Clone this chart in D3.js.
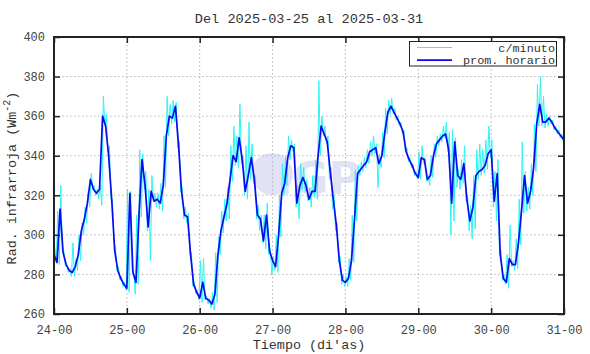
<!DOCTYPE html>
<html lang="es">
<meta charset="UTF-8">
<style>
    body{ margin:0; background:#fff; }
    text{
        font-family:"Liberation Mono","DejaVu Sans Mono",Courier,monospace;
        fill:#333;
    }
    .grid line{
        stroke:#b4b4b4;
        stroke-dasharray:1.5,2.5;
    }
</style>
<body>
<div id="chart"></div>
<script src="https://d3js.org/d3.v7.min.js"></script>
<script>
    // dimensiones
    var width = 590, height = 354;
    var margin = {top:37, right:26, bottom:40, left:54};
    var x0 = margin.left, x1 = width - margin.right;
    var y0 = margin.top, y1 = height - margin.bottom;

    var title = "Del 2025-03-25 al 2025-03-31";
    var dayTicks = [0, 24, 48, 72, 96, 120, 144, 168];
    var dayLabels = ["24-00","25-00","26-00","27-00","28-00","29-00","30-00","31-00"];
    var yTicks = [260, 280, 300, 320, 340, 360, 380, 400];

    // promedio horario (una hora por valor, 24-00 .. 31-00)
    var hourly = [
        290,286,313,291,285,282,281,284,290,302,308,316,328,323,321,323,360,355,340,318,292,282,278,275,
        273,321,281,276,310,338,325,304,322,317,318,316,325,350,360,359,365,346,322,310,309,290,275,271,
        268,276,268,267,265,270,290,302,309,316,328,340,337,349,338,322,330,339,328,310,308,297,310,292,
        287,284,300,321,326,339,345,344,316,325,329,325,318,322,322,340,355,351,347,332,318,305,287,277,
        276,278,287,308,331,333,335,337,342,343,344,336,340,352,362,365,362,359,356,352,342,338,335,331,
        329,339,338,328,330,340,346,348,350,351,343,316,347,330,328,336,318,307,314,330,332,333,335,341,
        343,317,331,290,278,276,288,285,285,296,312,330,316,322,334,356,366,357,357,359,357,354,352,350,348
    ];

    var minuteHi = [
        294,312,325,292,285,283,296,288,300,306,314,322,331,325,323,325,370,361,345,318,294,284,279,276,
        323,322,282,310,343,341,332,323,330,321,321,326,350,370,366,368,367,347,324,314,311,291,276,272,
        287,288,269,268,271,291,299,312,318,324,345,355,350,366,340,345,357,346,330,315,310,310,316,293,
        289,300,320,336,340,350,348,346,325,336,334,328,324,330,338,378,360,355,350,334,320,306,289,280,
        279,288,310,333,335,337,339,343,347,350,346,341,352,364,368,369,364,360,357,353,344,339,336,332,
        342,345,339,330,340,346,350,351,355,357,352,353,349,333,338,345,320,315,330,343,346,343,348,355,
        348,332,338,292,280,290,305,287,298,318,347,332,324,336,356,376,380,370,361,360,358,355,353,351
    ];
    var minuteLo = [
        286,285,292,284,281,279,279,282,287,300,306,314,324,320,318,315,356,342,318,296,282,277,274,272,
        271,282,270,275,309,323,302,287,317,314,313,312,324,350,356,357,344,322,308,306,290,274,270,267,
        266,267,265,263,262,266,290,301,307,308,327,335,334,336,320,318,328,326,308,302,296,293,290,280,
        282,281,299,320,325,338,342,314,308,323,322,317,314,319,318,340,350,346,328,313,302,286,275,274,
        274,277,286,307,330,332,334,336,340,341,324,334,339,351,361,361,358,355,351,342,337,334,330,328,
        328,336,327,325,329,339,345,347,349,342,300,307,324,323,326,317,302,298,303,328,330,331,333,339,
        314,307,290,277,275,273,284,282,283,295,311,312,313,320,332,355,355,354,355,356,353,351,349,347
    ];

    // cada hora: un pico y un valle del registro por minuto
    var minuteSeries = [];
    minuteHi.forEach(function(d, i){
        minuteSeries.push({t:i + 0.25, v:d});
        minuteSeries.push({t:i + 0.75, v:minuteLo[i]});
    });

    var svg = d3.select("#chart").append("svg")
        .attr("width", width)
        .attr("height", height);

    svg.append("rect")
        .attr("width", width)
        .attr("height", height)
        .attr("fill", "#fff");

    var x = d3.scaleLinear().domain([0, 168]).range([x0, x1]);
    var y = d3.scaleLinear().domain([260, 400]).range([y1, y0]);

    // marca de agua
    var wm = svg.append("g").attr("opacity", 0.8);
    wm.append("circle")
        .attr("cx", 272).attr("cy", 174).attr("r", 21)
        .attr("fill", "#dcdcf4");
    wm.append("text")
        .attr("x", 276).attr("y", 194)
        .style("font-family", "'DejaVu Sans',sans-serif")
        .style("font-weight", "bold")
        .style("font-size", "44px")
        .style("fill", "#dcdcf4")
        .text("IGP");

    // rejilla
    var grid = svg.append("g").attr("class", "grid");
    grid.selectAll("line.vx")
        .data(dayTicks.slice(1, -1))
        .enter().append("line")
        .attr("x1", d => x(d)).attr("x2", d => x(d))
        .attr("y1", y0).attr("y2", y1);
    grid.selectAll("line.hy")
        .data(yTicks.slice(1, -1))
        .enter().append("line")
        .attr("class", "hy")
        .attr("x1", x0).attr("x2", x1)
        .attr("y1", d => y(d)).attr("y2", d => y(d));

    // c/minuto
    var zig = d3.line()
        .x(d => x(d.t))
        .y(d => y(d.v));

    svg.append("path")
        .datum(minuteSeries)
        .attr("d", zig)
        .attr("fill", "none")
        .attr("stroke", "#2ef4f4")
        .attr("stroke-width", 1);

    var line = d3.line()
        .x((d, i) => x(i))
        .y(d => y(d));

    svg.append("path")
        .datum(hourly)
        .attr("d", line)
        .attr("fill", "none")
        .attr("stroke", "#0a0af0")
        .attr("stroke-width", 1.7)
        .attr("stroke-linejoin", "round");

    // ejes (marcas hacia adentro en los cuatro lados)
    var tk = 6;
    svg.append("g")
        .attr("transform", "translate(0," + y1 + ")")
        .call(d3.axisBottom(x).tickValues(dayTicks).tickSize(-tk).tickFormat((d, i) => dayLabels[i]))
        .call(g => g.select(".domain").remove())
        .call(g => g.selectAll("line").attr("stroke", "#222").attr("stroke-width", 1.5))
        .call(g => g.selectAll("text").attr("y", 11).style("font-size", "12px").style("fill", "#444"));

    svg.append("g")
        .attr("transform", "translate(0," + y0 + ")")
        .call(d3.axisTop(x).tickValues(dayTicks).tickSize(-tk).tickFormat(""))
        .call(g => g.select(".domain").remove())
        .call(g => g.selectAll("line").attr("stroke", "#222").attr("stroke-width", 1.5));

    svg.append("g")
        .attr("transform", "translate(" + x0 + ",0)")
        .call(d3.axisLeft(y).tickValues(yTicks).tickSize(-tk).tickFormat(d3.format("d")))
        .call(g => g.select(".domain").remove())
        .call(g => g.selectAll("line").attr("stroke", "#222").attr("stroke-width", 1.5))
        .call(g => g.selectAll("text").attr("x", -9).style("font-size", "12px").style("fill", "#444"));

    svg.append("g")
        .attr("transform", "translate(" + x1 + ",0)")
        .call(d3.axisRight(y).tickValues(yTicks).tickSize(-tk).tickFormat(""))
        .call(g => g.select(".domain").remove())
        .call(g => g.selectAll("line").attr("stroke", "#222").attr("stroke-width", 1.5));

    svg.append("rect")
        .attr("x", x0).attr("y", y0)
        .attr("width", x1 - x0).attr("height", y1 - y0)
        .attr("fill", "none")
        .attr("stroke", "#222")
        .attr("stroke-width", 2);

    // textos
    svg.append("text")
        .attr("x", (x0 + x1) / 2).attr("y", 23)
        .attr("text-anchor", "middle")
        .style("font-size", "13.6px")
        .text(title);

    svg.append("text")
        .attr("x", (x0 + x1) / 2).attr("y", 349)
        .attr("text-anchor", "middle")
        .style("font-size", "13.4px")
        .text("Tiempo (di'as)");

    var yl = svg.append("text")
        .attr("transform", "translate(16,178) rotate(-90)")
        .attr("text-anchor", "middle")
        .style("font-size", "13.4px");
    yl.append("tspan").text("Rad. infrarroja (Wm");
    yl.append("tspan").attr("dy", -6).style("font-size", "10px").text("-2");
    yl.append("tspan").attr("dy", 6).text(")");

    // leyenda
    var leg = svg.append("g");
    leg.append("rect")
        .attr("x", 409.5).attr("y", 41.5)
        .attr("width", 147).attr("height", 24.5)
        .attr("fill", "#fff")
        .attr("stroke", "#222")
        .attr("stroke-width", 1);
    var legItems = [
        {name:"c/minuto", color:"#2ef4f4", w:1},
        {name:"prom. horario", color:"#0a0af0", w:1.7}
    ];
    leg.selectAll("line")
        .data(legItems)
        .enter().append("line")
        .attr("x1", 417).attr("x2", 452)
        .attr("y1", (d, i) => 47.5 + i * 12.7)
        .attr("y2", (d, i) => 47.5 + i * 12.7)
        .attr("stroke", d => d.color)
        .attr("stroke-width", d => d.w);
    leg.selectAll("text")
        .data(legItems)
        .enter().append("text")
        .attr("x", 555)
        .attr("y", (d, i) => 51.5 + i * 12.6)
        .attr("text-anchor", "end")
        .style("font-size", "11.8px")
        .text(d => d.name);
</script>
</body>
</html>
